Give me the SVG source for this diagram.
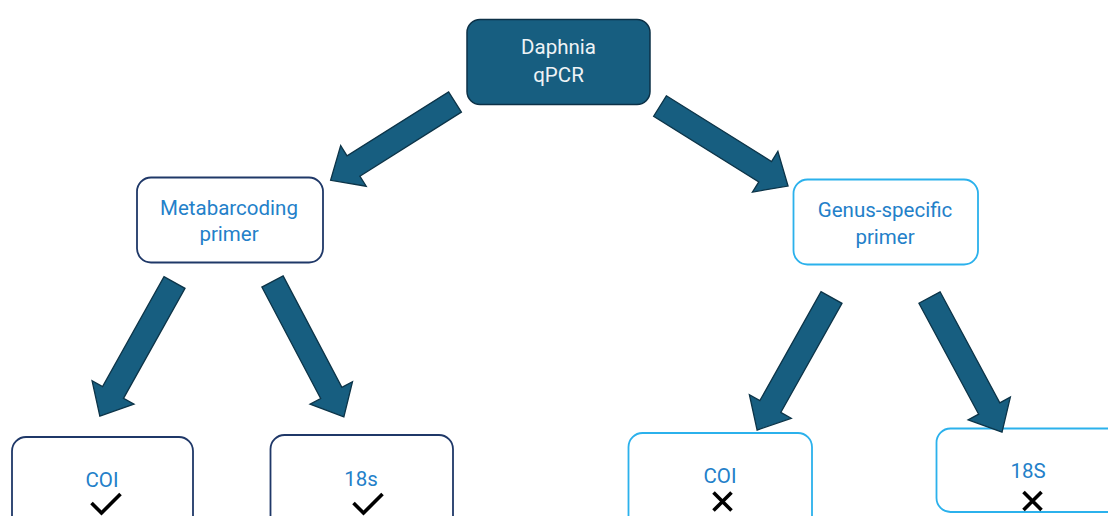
<svg xmlns="http://www.w3.org/2000/svg" width="1108" height="516" viewBox="0 0 1108 516">
  <style>
    .label { font-family: Roboto, "Liberation Sans", sans-serif; font-size: 20.5px; text-anchor: middle; fill: #2380C9; }
    .head { fill: #EEF3F6; }
    .box-dark { fill: #ffffff; stroke: #1F3868; stroke-width: 1.8; }
    .box-light { fill: #ffffff; stroke: #2BB1EC; stroke-width: 1.8; }
    .mark { fill: none; stroke: #000000; stroke-width: 3.6; }
    .arrow { fill: #175E80; stroke: #0C3448; stroke-width: 1.3; stroke-linejoin: miter; }
  </style>
  <defs>
    <!-- result icons, drawn centred on the origin -->
    <path id="tick" class="mark" d="M-14,-1 L-4,9 L15,-10" stroke-linejoin="miter"/>
    <path id="cross" class="mark" d="M-9,-9 L9,9 M9,-9 L-9,9"/>
  </defs>
  <rect width="1108" height="516" fill="#ffffff"/>

  <!-- root -->
  <g id="node-daphnia">
    <rect x="467" y="19.5" width="183" height="85" rx="13" fill="#175E80" stroke="#0C3147" stroke-width="1.5"/>
    <text class="label head" x="558.5" y="54">Daphnia</text>
    <text class="label head" x="558.5" y="82">qPCR</text>
  </g>

  <!-- primer types -->
  <g id="node-metabarcoding">
    <rect class="box-dark" x="137" y="177.5" width="186" height="85" rx="14"/>
    <text class="label" x="229" y="215">Metabarcoding</text>
    <text class="label" x="229" y="241">primer</text>
  </g>
  <g id="node-genus">
    <rect class="box-light" x="793.5" y="179.5" width="184.5" height="85" rx="14"/>
    <text class="label" x="885" y="216.5">Genus-specific</text>
    <text class="label" x="885" y="243.5">primer</text>
  </g>

  <!-- markers -->
  <g id="node-meta-coi">
    <rect class="box-dark" x="12" y="437" width="181" height="110" rx="14"/>
    <text class="label" x="102" y="487">COI</text>
    <use href="#tick" x="105.5" y="504"/>
  </g>
  <g id="node-meta-18s">
    <rect class="box-dark" x="270.5" y="435" width="182.5" height="110" rx="14"/>
    <text class="label" x="361" y="486">18s</text>
    <use href="#tick" x="367.5" y="504"/>
  </g>
  <g id="node-genus-coi">
    <rect class="box-light" x="628.5" y="433" width="183.5" height="110" rx="14"/>
    <text class="label" x="720" y="483">COI</text>
    <use href="#cross" x="722.5" y="501.5"/>
  </g>
  <g id="node-genus-18s">
    <rect class="box-light" x="936.5" y="428.5" width="200" height="83.5" rx="14"/>
    <text class="label" x="1028" y="478">18S</text>
    <use href="#cross" x="1032.5" y="501"/>
  </g>

  <!-- block arrows: each drawn from its tail along +x, then placed and turned -->
  <g id="connectors">
    <path class="arrow" transform="translate(455,102) rotate(147.8)" d="M0,-12 H120 V-24 L147,0 L120,24 V12 H0 Z"/>
    <path class="arrow" transform="translate(660,106) rotate(32)" d="M0,-12 H124 V-24 L151,0 L124,24 V12 H0 Z"/>
    <path class="arrow" transform="translate(174.5,282.5) rotate(119.2)" d="M0,-12 H126 V-24 L153,0 L126,24 V12 H0 Z"/>
    <path class="arrow" transform="translate(272.5,281.5) rotate(62.2)" d="M0,-12 H126 V-24 L153,0 L126,24 V12 H0 Z"/>
    <path class="arrow" transform="translate(831.5,297.5) rotate(119.3)" d="M0,-12 H125 V-24 L152,0 L125,24 V12 H0 Z"/>
    <path class="arrow" transform="translate(929.5,297.5) rotate(61.7)" d="M0,-12 H126 V-24 L153,0 L126,24 V12 H0 Z"/>
  </g>
</svg>
